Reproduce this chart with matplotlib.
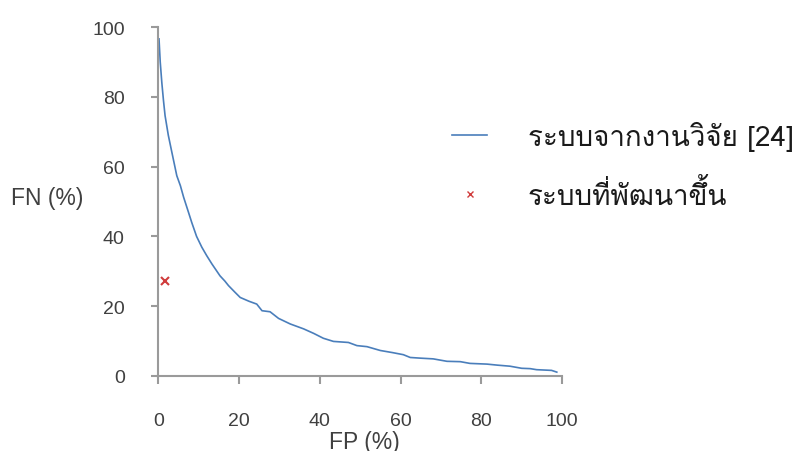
import matplotlib
matplotlib.use("Agg")
import matplotlib.pyplot as plt

# เส้นโค้ง FP/FN ของระบบจากงานวิจัย [24] (อ่านค่าจากรูป)
fp_ref = [0.2, 0.5, 0.9, 1.3, 1.7, 2.5, 3.4, 4.6, 5.5, 6.3, 7.5, 8.3, 9.5, 10.8,
          12.0, 13.3, 15.3, 16.5, 17.4, 19.0, 20.3, 22.5, 24.4, 25.7, 27.7, 29.8,
          32.7, 36.0, 38.5, 40.9, 43.4, 47.1, 49.2, 51.7, 55.0, 58.0, 60.7, 62.4,
          65.0, 68.1, 71.5, 74.8, 77.2, 81.4, 84.0, 87.1, 90.0, 92.1, 93.7, 97.4, 98.7]
fn_ref = [96.6, 90.0, 84.0, 79.0, 74.6, 69.0, 64.0, 57.4, 54.5, 51.2, 46.9, 44.0,
          40.0, 36.9, 34.5, 32.1, 28.7, 27.2, 25.9, 24.0, 22.5, 21.4, 20.6, 18.7,
          18.4, 16.5, 14.9, 13.5, 12.2, 10.8, 9.9, 9.6, 8.7, 8.4, 7.3, 6.7, 6.1,
          5.3, 5.1, 4.9, 4.2, 4.1, 3.6, 3.4, 3.1, 2.8, 2.2, 2.1, 1.8, 1.6, 1.1]

# ระบบที่พัฒนาขึ้น
fp_new = [1.7]
fn_new = [27.3]

x_ticks = [0, 20, 40, 60, 80, 100]
y_ticks = [0, 20, 40, 60, 80, 100]

plt.rcParams["font.family"] = ["Liberation Sans", "DejaVu Sans"]
thai_font = ["Loma", "Noto Sans Thai Looped", "Liberation Sans"]

fig = plt.figure(figsize=(7.95, 4.52), dpi=100)
ax = fig.add_axes([0.199, 0.166, 0.508, 0.772])

ax.plot(fp_ref, fn_ref, color="#4a7ebb", lw=1.2, label="ระบบจากงานวิจัย [24]")
ax.plot(fp_new, fn_new, ls="none", marker="x", ms=6, mew=1.5, color="#d03c3c",
        label="ระบบที่พัฒนาขึ้น")

ax.set_xlim(0, 100)
ax.set_ylim(0, 100)
ax.set_xticks(x_ticks)
ax.set_yticks(y_ticks)
for side in ("top", "right"):
    ax.spines[side].set_visible(False)
for side in ("left", "bottom"):
    ax.spines[side].set_color("#9a9a9a")
    ax.spines[side].set_linewidth(1.5)
ax.tick_params(axis="y", direction="out", length=5, width=1.5, color="#9a9a9a",
               pad=19, labelsize=14, labelcolor="#404040")
ax.tick_params(axis="x", direction="out", length=6, width=1.5, color="#9a9a9a",
               pad=20, labelsize=14, labelcolor="#404040")

fig.text(11 / 795, 1 - 199 / 452, "FN (%)", fontsize=16.5, color="#404040",
         ha="left", va="center")
fig.text(364 / 795, 1 - 431 / 452, "FP (%)", fontsize=16.5, color="#404040",
         ha="center", va="top")

leg = ax.legend(loc="center left", bbox_to_anchor=(452 / 795, 1 - 166.5 / 452),
                bbox_transform=fig.transFigure, frameon=False, borderpad=0,
                borderaxespad=0, prop={"family": thai_font, "size": 20},
                handlelength=1.26, handletextpad=1.47, labelspacing=1.0)
for t in leg.get_texts():
    t.set_color("#1a1a1a")
leg.legend_handles[1].set_markersize(5)
leg.legend_handles[1].set_markeredgewidth(1)

fig.savefig("out.png")
